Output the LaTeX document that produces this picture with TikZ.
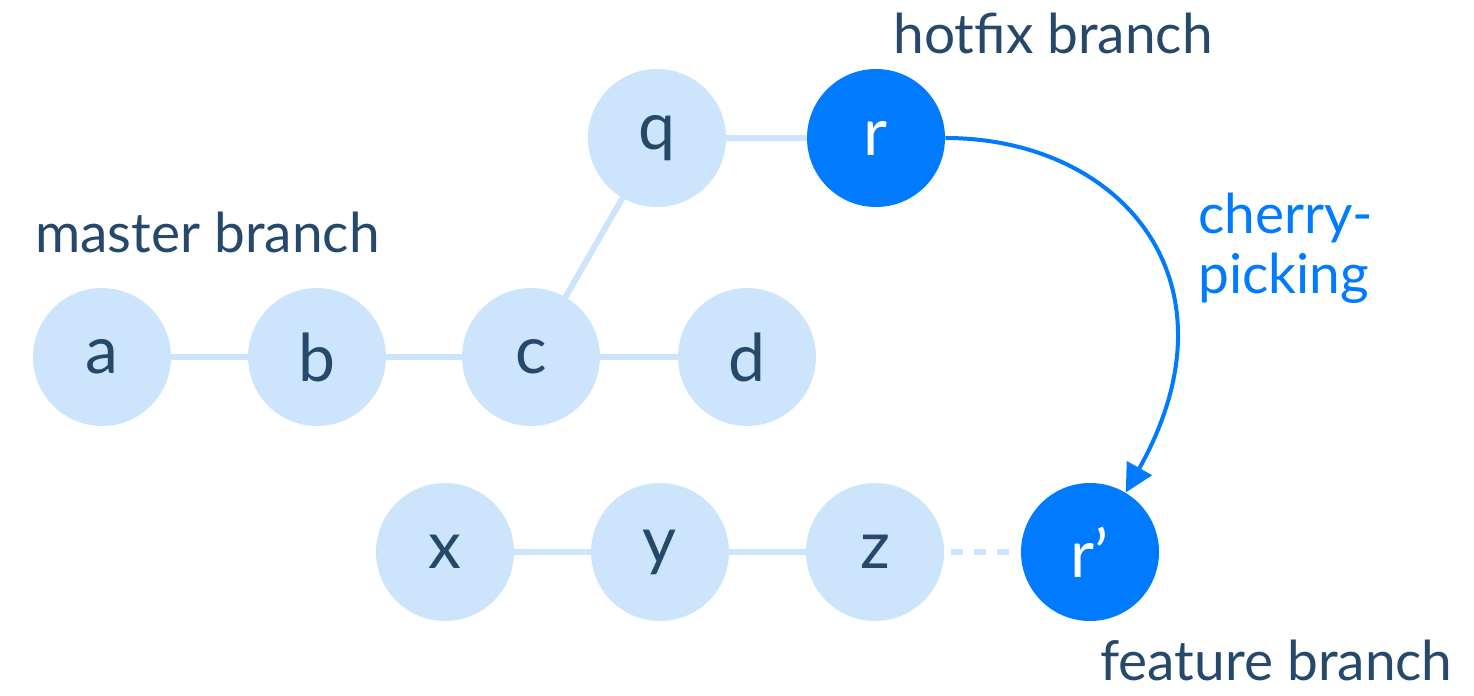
\documentclass[tikz,border=0pt]{standalone}
\usepackage{fontspec}
\setmainfont{Lato}
\usetikzlibrary{arrows.meta}
\definecolor{lightc}{HTML}{CCE5FC}
\definecolor{darkc}{HTML}{007BFF}
\definecolor{txtc}{HTML}{26486B}
\tikzset{
  commit/.style={circle, fill=lightc, minimum size=69pt, inner sep=0pt, text=txtc, font=\fontsize{33}{40}\selectfont},
  hot/.style={circle, fill=darkc, minimum size=69pt, inner sep=0pt, text=white, font=\fontsize{33}{40}\selectfont},
  link/.style={draw=lightc, line width=3pt},
  lbl/.style={anchor=base west, inner sep=0pt, text=txtc, font=\fontsize{27.5}{30}\selectfont},
  pick/.style={draw=darkc, line width=2pt, -{Triangle[length=14pt,width=14pt]}}
}
\begin{document}
\begin{tikzpicture}[x=0.5pt,y=-0.5pt]
\useasboundingbox (0,0) rectangle (1474,696);
% links first (behind)
\coordinate (ac) at (102,357);
\coordinate (bc) at (317,357);
\coordinate (cc) at (531,357);
\coordinate (dc) at (747,357);
\coordinate (qc) at (657,138);
\coordinate (rc) at (876,138);
\coordinate (xc) at (445,552);
\coordinate (yc) at (660,552);
\coordinate (zc) at (875,552);
\draw[link] (ac) -- (bc) -- (cc) -- (dc);
\draw[link] (cc) -- (qc) -- (rc);
\draw[link] (xc) -- (yc) -- (zc);
% nodes
\node[commit] (a) at (ac) {a};
\node[commit] (b) at (bc) {b};
\node[commit] (c) at (cc) {c};
\node[commit] (d) at (dc) {d};
\node[commit] (q) at (qc) {q};
\node[hot] (r) at (rc) {r};
\node[commit] (x) at (xc) {x};
\node[commit] (y) at (yc) {y};
\node[commit] (z) at (zc) {z};
\node[hot] (rp) at (1090,552) {r’};
\draw[draw=lightc, line width=3pt, dash pattern=on 6pt off 5.5pt, dash phase=8pt] (z.east) -- (rp.west);
% cherry-pick arrow
\draw[pick] (r.east) .. controls (1120,138) and (1245,280) .. (rp.59);
% labels
\node[lbl] (lmaster) at (35,252) {master branch};
\node[lbl] (lhotfix) at (893,54) {hotfix branch};
\node[lbl] (lfeature) at (1100,680) {feature branch};
\node[lbl, text=darkc, align=left] (lpick) at (1198,293) {cherry-\\picking};
\end{tikzpicture}
\end{document}
